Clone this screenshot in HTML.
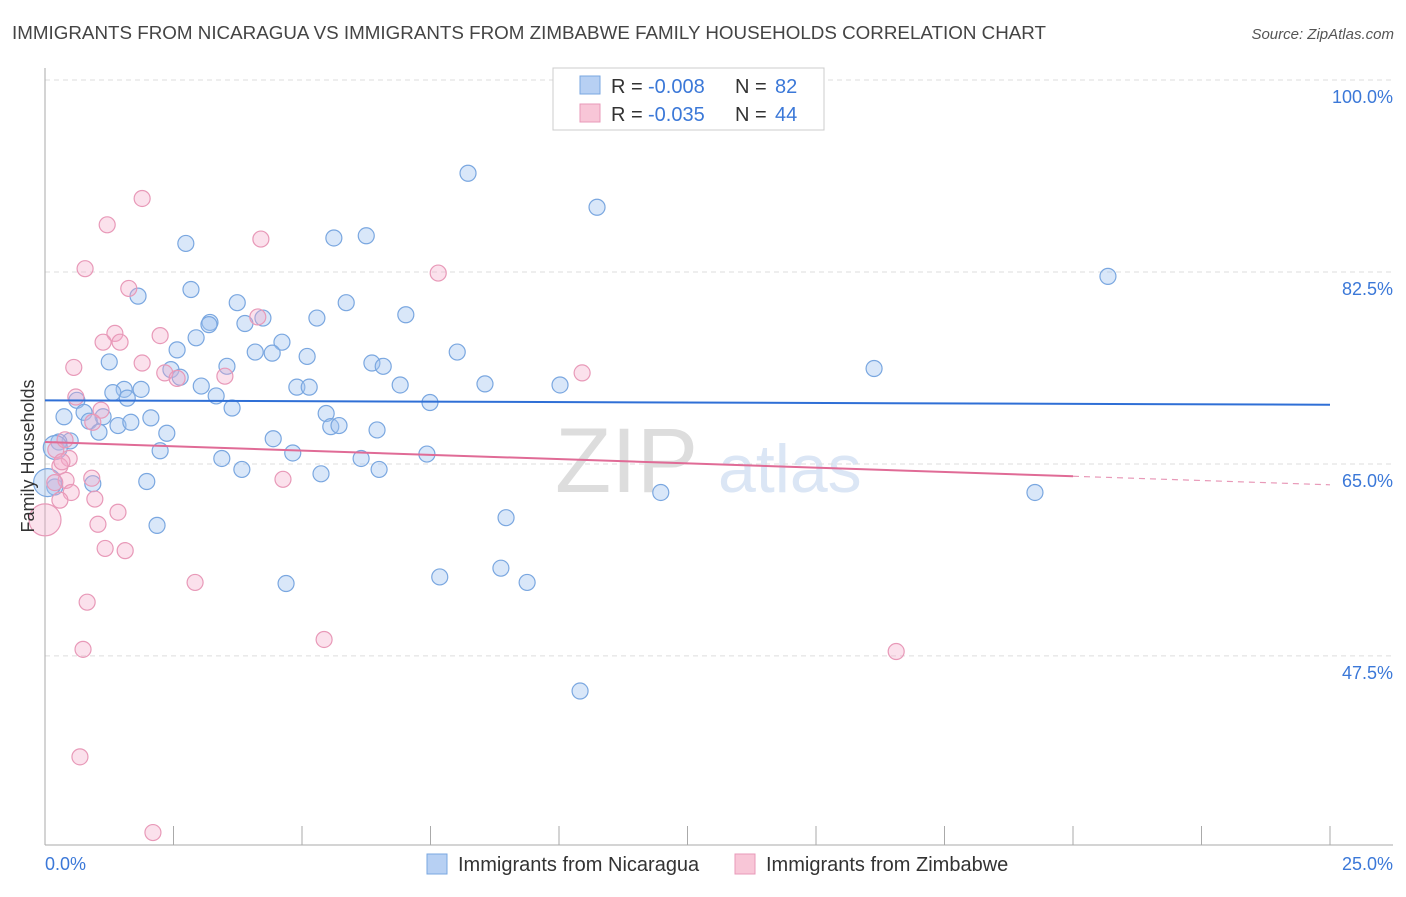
<!DOCTYPE html>
<html><head><meta charset="utf-8"><style>
body{margin:0;background:#fff;font-family:"Liberation Sans",sans-serif;}
svg text{font-family:"Liberation Sans",sans-serif;}
</style></head><body>
<svg id="chart" width="1406" height="892">
<text x="12" y="39" font-size="18" fill="#444" textLength="1034" lengthAdjust="spacingAndGlyphs">IMMIGRANTS FROM NICARAGUA VS IMMIGRANTS FROM ZIMBABWE FAMILY HOUSEHOLDS CORRELATION CHART</text>
<text x="1394" y="39" font-size="15" fill="#555" font-style="italic" text-anchor="end">Source: ZipAtlas.com</text>
<text x="555" y="492" font-size="92" fill="#ddd" font-family="Liberation Serif">ZIP</text>
<text x="718" y="492" font-size="68" fill="#dbe6f5">atlas</text>
<g id="grid"></g><g id="axes"></g><g id="pts"></g><g id="trend"></g>
<text transform="translate(34,456) rotate(-90)" font-size="18" fill="#333" text-anchor="middle">Family Households</text>
<g>
<rect x="553" y="68" width="271" height="62" fill="#fff" stroke="#ccc"/>
<rect x="580" y="76" width="20" height="18" fill="#b7d0f3" stroke="#7aa7e0"/>
<text y="93" font-size="20" fill="#333"><tspan x="611">R =</tspan><tspan x="648" fill="#3b78d8">-0.008</tspan><tspan x="735">N =</tspan><tspan x="775" fill="#3b78d8">82</tspan></text>
<rect x="580" y="104" width="20" height="18" fill="#f8c6d7" stroke="#e899b8"/>
<text y="121" font-size="20" fill="#333"><tspan x="611">R =</tspan><tspan x="648" fill="#3b78d8">-0.035</tspan><tspan x="735">N =</tspan><tspan x="775" fill="#3b78d8">44</tspan></text>
</g>
<g>
<rect x="427" y="854" width="20" height="20" fill="#b7d0f3" stroke="#7aa7e0"/>
<text x="458" y="871" font-size="20" fill="#333">Immigrants from Nicaragua</text>
<rect x="735" y="854" width="20" height="20" fill="#f8c6d7" stroke="#e899b8"/>
<text x="766" y="871" font-size="20" fill="#333">Immigrants from Zimbabwe</text>
</g>
</svg>
<script>
const yTicks=[100,82.5,65,47.5];
const yTickLabels=["100.0%","82.5%","65.0%","47.5%"];
const xTicks=[0,2.5,5,7.5,10,12.5,15,17.5,20,22.5,25];
const xEndLabels=["0.0%","25.0%"];
const blueX=[8.23,10.74,2.74,5.62,6.25,20.68,2.84,1.81,3.74,5.86,3.21,3.19,3.89,5.29,4.24,7.02,2.94,4.61,2.57,4.09,4.42,5.10,8.02,1.25,3.54,6.36,6.58,16.13,2.45,2.63,4.90,5.14,6.91,8.56,10.02,1.54,1.87,1.32,3.04,3.33,0.62,1.60,3.64,7.49,0.76,0.37,1.13,2.06,5.47,0.86,1.42,1.67,5.56,5.72,1.05,6.46,2.37,4.44,0.49,0.27,2.24,4.82,7.43,3.44,6.15,3.83,6.50,5.37,0.93,1.98,0.19,11.98,19.26,8.97,2.18,7.68,8.87,9.38,4.69,10.41,0.05,0.2];
const blueY=[91.5,88.4,85.1,85.6,85.8,82.1,80.9,80.3,79.7,79.7,77.9,77.7,77.8,78.3,78.3,78.6,76.5,76.1,75.4,75.2,75.1,74.8,75.2,74.3,73.9,74.2,73.9,73.7,73.6,72.9,72.0,72.0,72.2,72.3,72.2,71.8,71.8,71.5,72.1,71.2,70.8,71.0,70.1,70.6,69.7,69.3,69.3,69.2,69.6,68.9,68.5,68.8,68.4,68.5,67.9,68.1,67.8,67.3,67.1,67.0,66.2,66.0,65.9,65.5,65.5,64.5,64.5,64.1,63.2,63.4,62.9,62.4,62.4,60.1,59.4,54.7,55.5,54.2,54.1,44.3,63.3,66.5];
const blueR=[8,8,8,8,8,8,8,8,8,8,8,8,8,8,8,8,8,8,8,8,8,8,8,8,8,8,8,8,8,8,8,8,8,8,8,8,8,8,8,8,8,8,8,8,8,8,8,8,8,8,8,8,8,8,8,8,8,8,8,8,8,8,8,8,8,8,8,8,8,8,8,8,8,8,8,8,8,8,8,8,14,12];
const pinkX=[1.89,1.21,4.20,7.65,0.78,1.63,4.14,1.36,2.24,1.13,1.46,0.56,1.89,10.45,3.50,2.33,2.57,0.60,1.09,0.93,0.21,0.47,0.29,0.91,0.41,4.63,0.19,0.51,0.29,0.97,1.42,1.03,1.17,1.56,2.92,0.82,5.43,0.74,16.56,0.68,2.10,0.0,0.39,0.33];
const pinkY=[89.2,86.8,85.5,82.4,82.8,81.0,78.4,76.9,76.7,76.1,76.1,73.8,74.2,73.3,73.0,73.3,72.8,71.1,69.9,68.8,66.3,65.5,64.8,63.7,63.5,63.6,63.3,62.4,61.7,61.8,60.6,59.5,57.3,57.1,54.2,52.4,49.0,48.1,47.9,38.3,31.4,59.9,67.2,65.2];
const pinkR=[8,8,8,8,8,8,8,8,8,8,8,8,8,8,8,8,8,8,8,8,8,8,8,8,8,8,8,8,8,8,8,8,8,8,8,8,8,8,8,8,8,16,8,8];
const blueTrend=[70.8,70.4];
const pinkTrend=[67.0,63.1];
const pinkSolidEnd=20;

const NS="http://www.w3.org/2000/svg";
const X=v=>45+v/25*1285;
const Y=v=>80+(100-v)*10.97;
function mk(tag,attrs,parent){const e=document.createElementNS(NS,tag);for(const k in attrs)e.setAttribute(k,attrs[k]);document.getElementById(parent).appendChild(e);return e;}
yTicks.forEach((t,i)=>{
  const l=mk('line',{x1:45,x2:1393,y1:Y(t),y2:Y(t),stroke:'#ddd','stroke-dasharray':'5,4'},'grid');
  
  
  const tx=mk('text',{x:1393,y:Y(t)+23,'font-size':18,fill:'#3b78d8','text-anchor':'end'},'grid');
  tx.textContent=yTickLabels[i];
  
  
});
const ax=mk('line',{x1:45,x2:45,y1:68,y2:845,stroke:'#aaa'},'axes');


const bx=mk('line',{x1:45,x2:1393,y1:845,y2:845,stroke:'#aaa'},'axes');


xTicks.forEach(t=>{
  const l=mk('line',{x1:X(t),x2:X(t),y1:826,y2:845,stroke:'#aaa'},'axes');
  
  
});
[[0,'start'],[25,'end']].forEach((p,i)=>{
  const t=mk('text',{x:i?1393:45,y:870,'font-size':18,fill:'#3b78d8','text-anchor':p[1]},'axes');
  t.textContent=xEndLabels[i];
  
  
});
blueX.forEach((v,i)=>{
  const c=mk('circle',{cx:X(v),cy:Y(blueY[i]),r:blueR[i],fill:'rgba(160,196,240,0.4)',stroke:'#7aa7e0','stroke-width':1.2},'pts');
  
  
});
pinkX.forEach((v,i)=>{
  const c=mk('circle',{cx:X(v),cy:Y(pinkY[i]),r:pinkR[i],fill:'rgba(244,170,200,0.35)',stroke:'#e899b8','stroke-width':1.2},'pts');
  
  
});
const bl=mk('line',{x1:X(0),y1:Y(blueTrend[0]),x2:X(25),y2:Y(blueTrend[1]),stroke:'#2f6fd6','stroke-width':2},'trend');


const pm=pinkTrend[0]+(pinkTrend[1]-pinkTrend[0])*pinkSolidEnd/25;
const pl=mk('line',{x1:X(0),y1:Y(pinkTrend[0]),x2:X(pinkSolidEnd),y2:Y(pm),stroke:'#e06b96','stroke-width':2},'trend');


const pd=mk('line',{x1:X(pinkSolidEnd),y1:Y(pm),x2:X(25),y2:Y(pinkTrend[1]),stroke:'#e899b8','stroke-width':1.2,'stroke-dasharray':'6,5'},'trend');


</script>
</body></html>
